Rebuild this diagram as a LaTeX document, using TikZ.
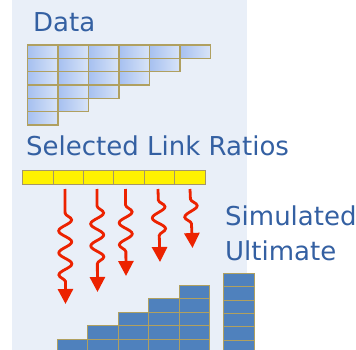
\documentclass[tikz,border=0pt]{standalone}
\usepackage{fontspec}
\setmainfont{DejaVu Sans}
\usetikzlibrary{arrows.meta,decorations.pathmorphing}
\definecolor{panel}{RGB}{233,239,248}
\definecolor{txtblue}{RGB}{52,96,162}
\definecolor{khaki}{RGB}{176,160,96}
\definecolor{barborder}{RGB}{165,150,105}
\definecolor{cellblue}{RGB}{79,129,189}
\definecolor{lightA}{RGB}{166,192,240}
\definecolor{lightB}{RGB}{216,228,248}
\definecolor{arrred}{RGB}{236,34,0}
\tikzset{
  lbl/.style={anchor=base west,inner sep=0,text=txtblue,font=\fontsize{26}{30}\selectfont},
  datacell/.style={draw=khaki,line width=1.4pt,left color=lightA,right color=lightB,minimum width=30.43pt,minimum height=13.33pt,inner sep=0},
  ratiocell/.style={draw=barborder,line width=1pt,fill=yellow,minimum width=30.43pt,minimum height=13.33pt,inner sep=0},
  simcell/.style={draw=khaki,line width=1pt,fill=cellblue,minimum width=30.5pt,minimum height=13.5pt,inner sep=0},
  wavy/.style={draw=arrred,line width=2.8pt,-{Triangle[width=15pt,length=15pt]},
    decorate,decoration={snake,amplitude=6.5pt,segment length=22pt,pre length=#1,post length=18pt}}
}
\begin{document}
\begin{tikzpicture}[x=1pt,y=-1pt]
\clip (0,0) rectangle (356,350);
\fill[panel] (12,0) rectangle (247,350);
% labels
\node[lbl] (data) at (33,32) {Data};
\node[lbl] (slr) at (26,156) {Selected Link Ratios};
\node[lbl] (sim) at (225,225) {Simulated};
\node[lbl] (ult) at (225,260) {Ultimate};
% data triangle
\foreach \r in {0,...,5}{
  \pgfmathtruncatemacro{\last}{5-\r}
  \foreach \c in {0,...,\last}{
    \node[datacell] (d\r\c) at ({27.7+30.43*(\c+0.5)},{45+13.33*(\r+0.5)}) {};
  }
}
% selected ratios bar
\foreach \c in {0,...,5}{
  \node[ratiocell] (y\c) at ({22.7+30.43*(\c+0.5)},177.35) {};
}
% simulated triangle
\foreach \k in {0,...,4}{
  \foreach \j in {0,...,\k}{
    \node[simcell] (s\k\j) at ({57.3+30.5*(\k+0.5)},{339+6.75-13.5*\j}) {};
  }
}
% ultimate column
\foreach \j in {0,...,5}{
  \node[simcell,minimum width=31pt,minimum height=13.4pt] (u\j) at (238.8,{273.3+6.7+13.4*\j}) {};
}
% arrows
\coordinate (a1s) at (65,189);   \coordinate (a1e) at (65.5,304);
\coordinate (a2s) at (97,189);   \coordinate (a2e) at (97.5,292);
\coordinate (a3s) at (125.5,189);\coordinate (a3e) at (126,276);
\coordinate (a4s) at (158,189);  \coordinate (a4e) at (160,262);
\coordinate (a5s) at (190,189);  \coordinate (a5e) at (192.5,248);
\draw[wavy=24pt] (a1s) -- (a1e);
\draw[wavy=17pt] (a2s) -- (a2e);
\draw[wavy=16pt] (a3s) -- (a3e);
\draw[wavy=11pt] (a4s) -- (a4e);
\draw[wavy=10pt] (a5s) -- (a5e);
\end{tikzpicture}
\end{document}
